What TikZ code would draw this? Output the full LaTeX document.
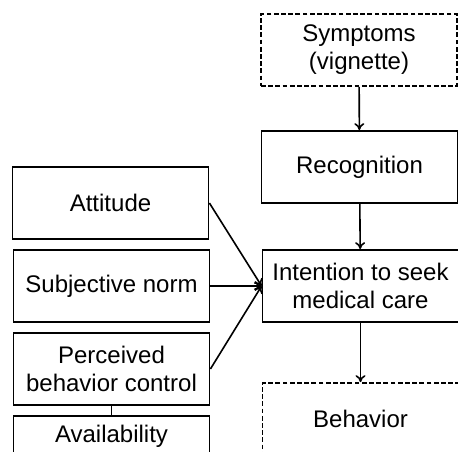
\documentclass[tikz,border=0pt]{standalone}
\usepackage{fontspec}
\setmainfont{Liberation Sans}
\usetikzlibrary{arrows.meta}

\begin{document}
\begin{tikzpicture}
[x=0.5pt,y=-0.5pt,
box/.style={draw,line width=0.9pt,minimum width=98pt,minimum height=36pt,
	align=center,inner sep=1pt,font=\fontsize{12}{14}\selectfont},
dashbox/.style={box,dash pattern=on 2.4pt off 1.2pt},
arr/.style={line width=0.8pt,-{To[length=3.5pt,width=5pt]}}]

\useasboundingbox (0,0) rectangle (458,451);
\clip (0,0) rectangle (458,451);

% right column
\node[dashbox] (symptoms) at (359,50) {Symptoms\\(vignette)};
\node[box] (recog) at (359.5,167) {Recognition};
\node[box] (intent) at (360.5,286) {Intention to seek\\medical care};
\node[dashbox] (behav) at (360.5,419) {Behavior};

% left column
\node[box] (attit) at (110.5,203) {Attitude};
\node[box] (norm) at (111.5,286) {Subjective norm};
\node[box] (pbc) at (111.5,369) {Perceived\\behavior control};
\node[box] (avail) at (111.5,452) {};
\node[font=\fontsize{12}{14}\selectfont] (availtxt) at (111.5,436) {Availability};

\draw[arr] (symptoms) -- (recog);
\draw[arr] (recog) -- (intent);
\draw[arr] (intent) -- (behav);
\draw[arr] (attit.east) -- (intent.west);
\draw[arr] (norm.east) -- (intent.west);
\draw[arr] (pbc.east) -- (intent.west);
\draw[line width=0.8pt] (pbc) -- (avail);
\end{tikzpicture}
\end{document}
